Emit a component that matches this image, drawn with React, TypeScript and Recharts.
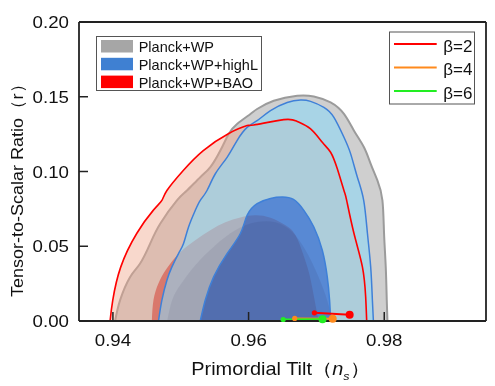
import React from 'react';
import { ComposedChart, Area, Line, XAxis, YAxis } from 'recharts';

const FONT = 'Liberation Sans, Arial, Helvetica, sans-serif';

const xTicks = [0.94, 0.96, 0.98];
const yTicks = [0, 0.05, 0.1, 0.15, 0.2];

// Planck+WP 95%
const gray95Ns = [0.94032, 0.94106, 0.94254, 0.94401, 0.94549, 0.94697, 0.94944, 0.95092, 0.95288, 0.95436, 0.95584, 0.95706, 0.9583, 0.96027, 0.96126, 0.96371, 0.96717, 0.96962, 0.97209, 0.97406, 0.97554, 0.97701, 0.978, 0.97899, 0.97973, 0.97997, 0.98022, 0.98037, 0.98047];
const gray95R = [0, 0.014, 0.0295, 0.0385, 0.0518, 0.0651, 0.0807, 0.0873, 0.0962, 0.1029, 0.114, 0.1251, 0.1318, 0.1385, 0.1418, 0.1473, 0.1507, 0.1502, 0.1462, 0.1385, 0.1273, 0.1162, 0.1051, 0.094, 0.0807, 0.0587, 0.0362, 0.014, 0];

// Planck+WP+BAO 95%
const red95Ns = [0.93958, 0.93998, 0.94116, 0.94353, 0.94594, 0.94722, 0.94796, 0.95037, 0.95332, 0.95702, 0.95978, 0.96076, 0.96519, 0.96717, 0.96914, 0.97087, 0.97209, 0.97308, 0.97406, 0.97446, 0.97554, 0.97678, 0.97726, 0.97741];
const red95R = [0, 0.014, 0.0362, 0.0587, 0.074, 0.0807, 0.0873, 0.1007, 0.114, 0.1253, 0.1307, 0.1311, 0.1347, 0.1335, 0.1285, 0.1195, 0.1129, 0.1018, 0.0873, 0.0807, 0.0585, 0.0362, 0.0162, 0];

// Planck+WP+highL 95%
const blue95Ns = [0.94672, 0.94722, 0.94796, 0.9487, 0.94967, 0.95041, 0.95115, 0.95214, 0.95288, 0.95387, 0.9551, 0.95683, 0.9583, 0.95978, 0.96126, 0.96323, 0.96569, 0.96766, 0.96914, 0.9711, 0.97258, 0.97406, 0.97505, 0.97604, 0.97697, 0.97752, 0.978, 0.97825, 0.9784];
const blue95R = [0, 0.014, 0.0273, 0.0362, 0.0451, 0.0518, 0.0629, 0.074, 0.0807, 0.0873, 0.0985, 0.1095, 0.1207, 0.1295, 0.134, 0.1407, 0.1462, 0.1478, 0.1469, 0.1429, 0.1362, 0.1229, 0.1118, 0.0962, 0.0807, 0.0587, 0.0362, 0.014, 0];

// Planck+WP+BAO 68%
const red68Ns = [0.94574, 0.94598, 0.94672, 0.94796, 0.94993, 0.95214, 0.95436, 0.95658, 0.95879, 0.96101, 0.96323, 0.96544, 0.96692, 0.9681, 0.96899, 0.96973, 0.97032];
const red68R = [0, 0.014, 0.0253, 0.0353, 0.046, 0.054, 0.0607, 0.066, 0.0693, 0.0707, 0.069, 0.064, 0.0573, 0.044, 0.0307, 0.014, 0];

// Planck+WP 68%
const gray68Ns = [0.948, 0.94874, 0.94993, 0.95214, 0.9551, 0.95805, 0.96101, 0.96396, 0.96648, 0.9684, 0.96988, 0.97135, 0.97239];
const gray68R = [0, 0.014, 0.024, 0.0373, 0.0507, 0.0607, 0.066, 0.066, 0.0593, 0.0473, 0.034, 0.0173, 0];

// Planck+WP+highL 68%
const blue68Ns = [0.95288, 0.95362, 0.95485, 0.95683, 0.95879, 0.95978, 0.96126, 0.96323, 0.96495, 0.96662, 0.96815, 0.96962, 0.97087, 0.9716, 0.97194, 0.97209];
const blue68R = [0, 0.014, 0.0295, 0.0451, 0.0585, 0.0707, 0.0785, 0.082, 0.0829, 0.0813, 0.074, 0.0629, 0.0473, 0.0295, 0.014, 0];

// model predictions
const beta2Ns = [0.9697, 0.9749];
const beta2R = [0.0055, 0.0042];
const beta4Ns = [0.9668, 0.9724];
const beta4R = [0.0017, 0.0015];
const beta6Ns = [0.9651, 0.9709];
const beta6R = [0.001, 0.0012];

const zip = (ns: number[], r: number[]) => ns.map((v, i) => ({ ns: v, r: r[i] }));

const gray95 = zip(gray95Ns, gray95R);
const red95 = zip(red95Ns, red95R);
const blue95 = zip(blue95Ns, blue95R);
const red68 = zip(red68Ns, red68R);
const gray68 = zip(gray68Ns, gray68R);
const blue68 = zip(blue68Ns, blue68R);
const beta2 = zip(beta2Ns, beta2R);
const beta4 = zip(beta4Ns, beta4R);
const beta6 = zip(beta6Ns, beta6R);

const AX = '#222';
const TL = 9;
const SX = 1.1; // horizontal stretch of the reference's text

const BottomTick = (props: any) => {
  const { x, y, payload } = props;
  return (
    <g>
      <line x1={x} y1={y} x2={x} y2={y - TL} stroke={AX} strokeWidth={1.5} />
      <text transform={`translate(${x},${y + 25}) scale(${SX},1)`} x={0} y={0} textAnchor="middle" fontSize={17} fill="#111" fontFamily={FONT}>
        {Number(payload.value).toFixed(2)}
      </text>
    </g>
  );
};
const TopTick = (props: any) => {
  const { x, y } = props;
  return <line x1={x} y1={y} x2={x} y2={y + TL} stroke={AX} strokeWidth={1.5} />;
};
const LeftTick = (props: any) => {
  const { x, y, payload } = props;
  return (
    <g>
      <line x1={x} y1={y} x2={x + TL} y2={y} stroke={AX} strokeWidth={1.5} />
      <text transform={`translate(${x - 10},${y + 6}) scale(${SX},1)`} x={0} y={0} textAnchor="end" fontSize={17} fill="#111" fontFamily={FONT}>
        {Number(payload.value).toFixed(2)}
      </text>
    </g>
  );
};
const RightTick = (props: any) => {
  const { x, y } = props;
  return <line x1={x} y1={y} x2={x - TL} y2={y} stroke={AX} strokeWidth={1.5} />;
};

const makeDot = (color: string) => (props: any) => {
  const { cx, cy, index } = props;
  return <circle key={`d-${color}-${index}`} cx={cx} cy={cy} r={index === 1 ? 4 : 2.6} fill={color} stroke="none" />;
};

const legendItems = [
  { label: 'Planck+WP', color: '#a6a6a6' },
  { label: 'Planck+WP+highL', color: '#3f80d2' },
  { label: 'Planck+WP+BAO', color: '#ff0000' },
];
const betaItems = [
  { label: 'β=2', color: '#ff0000' },
  { label: 'β=4', color: '#ff8a1c' },
  { label: 'β=6', color: '#22ee22' },
];

export default function App() {
  const W = 487;
  const H = 378;
  const common = { type: 'natural' as const, dataKey: 'r', isAnimationActive: false, dot: false, activeDot: false, baseValue: 0 };
  return (
    <div style={{ position: 'relative', width: W, height: H }}>
      <style>{'.blend-multiply path { mix-blend-mode: multiply; }'}</style>
      <ComposedChart width={W} height={H} margin={{ top: 0, right: 0, bottom: 35, left: 0 }}>
        <XAxis dataKey="ns" type="number" domain={[0.935, 0.995]} ticks={xTicks} height={30} tickSize={0} tickMargin={0}
          tickLine={false} tick={<BottomTick />} axisLine={{ stroke: AX, strokeWidth: 1.8 }} />
        <XAxis xAxisId="top" orientation="top" dataKey="ns" type="number" domain={[0.935, 0.995]} ticks={xTicks} height={14}
          tickSize={0} tickMargin={0} tickLine={false} tick={<TopTick />} axisLine={{ stroke: AX, strokeWidth: 1.8 }} />
        <YAxis type="number" domain={[0, 0.2]} ticks={yTicks} width={71} tickSize={0} tickMargin={0} tickLine={false}
          tick={<LeftTick />} axisLine={{ stroke: AX, strokeWidth: 1.8 }} />
        <YAxis yAxisId="right" orientation="right" type="number" domain={[0, 0.2]} ticks={yTicks} width={9} tickSize={0}
          tickMargin={0} tickLine={false} tick={<RightTick />} axisLine={{ stroke: AX, strokeWidth: 1.8 }} />

        <Area {...common} data={gray95} fill="#cfcfcf" fillOpacity={1} stroke="#9b9b9b" strokeWidth={2} />
        <Area {...common} data={red95} fill="rgb(239,166,139)" fillOpacity={0.44} stroke="none" />
        <Area {...common} data={red68} fill="#d9786c" fillOpacity={1} stroke="none" />
        <Area {...common} data={blue95} fill="rgb(142,215,245)" fillOpacity={0.6} stroke="none" />
        <Area {...common} data={gray68} fill="rgb(100,100,125)" fillOpacity={0.15} stroke="none" />
        <Area {...common} data={blue68} className="blend-multiply" fill="rgb(130,170,248)" fillOpacity={1} stroke="none" />
        <Area {...common} data={blue68} fill="none" stroke="#3f80d8" strokeWidth={1.5} />
        <Area {...common} data={blue95} fill="none" stroke="#3f80d8" strokeWidth={1.5} />
        <Area {...common} data={red95} fill="none" stroke="#ff0000" strokeWidth={1.6} />

        <Line type="linear" data={beta2} dataKey="r" stroke="#ff0000" strokeWidth={2} isAnimationActive={false} dot={makeDot('#ff0000')} activeDot={false} />
        <Line type="linear" data={beta4} dataKey="r" stroke="#ff8a1c" strokeWidth={2} isAnimationActive={false} dot={makeDot('#ff8a1c')} activeDot={false} />
        <Line type="linear" data={beta6} dataKey="r" stroke="#22ee22" strokeWidth={2} isAnimationActive={false} dot={makeDot('#22ee22')} activeDot={false} />
      </ComposedChart>

      <svg width={W} height={H} style={{ position: 'absolute', left: 0, top: 0, pointerEvents: 'none' }} fontFamily={FONT}>
        {/* left legend */}
        <rect x={88.5} y={28.5} width={165} height={54} fill="#fff" stroke="#555" strokeWidth={1} />
        {legendItems.map((it, i) => (
          <g key={it.label}>
            <rect x={93} y={32 + i * 17.8} width={32} height={12.5} fill={it.color} />
            <text x={130.7} y={44 + i * 17.8} fontSize={14.5} fill="#111">{it.label}</text>
          </g>
        ))}
        {/* right legend */}
        <rect x={381.5} y={24} width={85} height={72} fill="#fff" stroke="#555" strokeWidth={1} />
        {betaItems.map((it, i) => (
          <g key={it.label}>
            <line x1={386} x2={428.7} y1={36 + i * 23.5} y2={36 + i * 23.5} stroke={it.color} strokeWidth={2} />
            <text x={435.3} y={43.7 + i * 23.5} fontSize={17} fill="#111">{it.label}</text>
          </g>
        ))}
        {/* axis titles */}
        <g transform={`translate(272.5,367) scale(1.14,1)`}>
          <text x={0} y={0} textAnchor="middle" fontSize={17.5} fill="#111">
            Primordial Tilt（<tspan fontStyle="italic">n</tspan>
            <tspan fontStyle="italic" fontSize={11} dy={5}>s</tspan>
            <tspan dy={-5}>）</tspan>
          </text>
        </g>
        <g transform={`translate(15,178) rotate(-90) scale(1.06,1)`}>
          <text x={0} y={0} textAnchor="middle" fontSize={17} fill="#111">
            Tensor-to-Scalar Ratio（r）
          </text>
        </g>
      </svg>
    </div>
  );
}
